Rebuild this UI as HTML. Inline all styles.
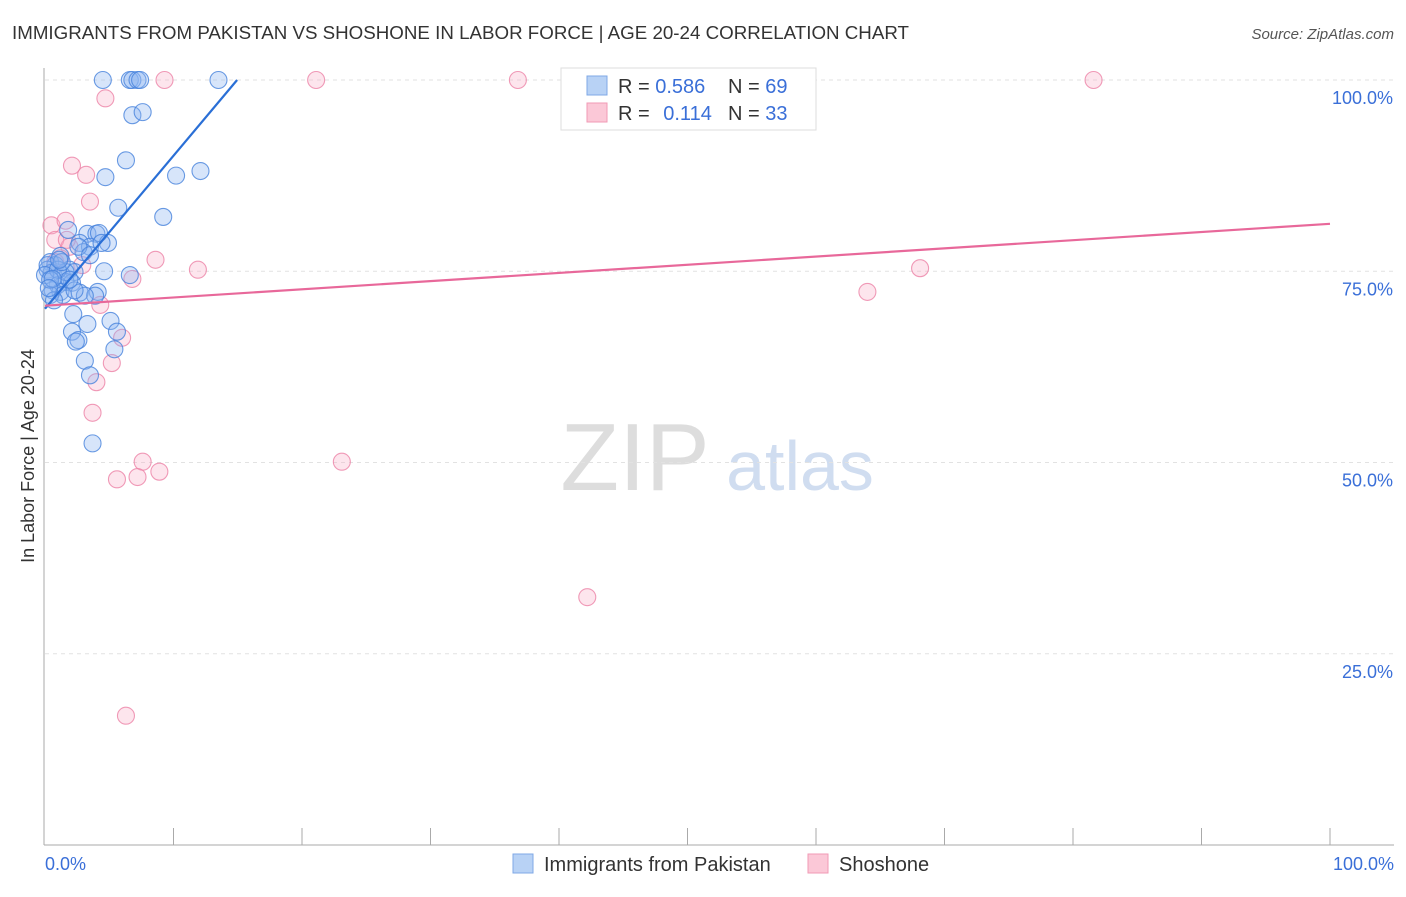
<!DOCTYPE html>
<html><head><meta charset="utf-8"><style>
body{margin:0;background:#fff;font-family:"Liberation Sans",sans-serif;}
svg text{font-family:"Liberation Sans",sans-serif;}
</style></head><body>
<svg id="chart" width="1406" height="892">
<text x="12" y="39" font-size="18" fill="#333" textLength="897" lengthAdjust="spacingAndGlyphs">IMMIGRANTS FROM PAKISTAN VS SHOSHONE IN LABOR FORCE | AGE 20-24 CORRELATION CHART</text>
<text x="1394" y="39" font-size="15" fill="#555" font-style="italic" text-anchor="end">Source: ZipAtlas.com</text>
<text x="635" y="490" font-size="96" fill="#ddd" font-family="Liberation Serif" text-anchor="middle">ZIP</text>
<text x="800" y="490" font-size="70" fill="#d0ddf0" text-anchor="middle">atlas</text>
<g id="grid"></g><g id="axes"></g><g id="marks"></g>
<text transform="translate(34,456) rotate(-90)" font-size="18" fill="#333" text-anchor="middle">In Labor Force | Age 20-24</text>
<text x="45" y="870" font-size="18" fill="#3a6fd8">0.0%</text>
<text x="1394" y="870" font-size="18" fill="#3a6fd8" text-anchor="end">100.0%</text>
<g>
<rect x="561" y="68" width="255" height="62" fill="#fff" stroke="#ddd"/>
<rect x="587" y="76" width="20" height="19" fill="#b8d2f5" stroke="#7fa8e6"/>
<rect x="587" y="103" width="20" height="19" fill="#fbc8d7" stroke="#f09ab5"/>
<text x="618" y="93" font-size="20" fill="#333">R = <tspan fill="#3a6fd8">0.586</tspan></text>
<text x="728" y="93" font-size="20" fill="#333">N = <tspan fill="#3a6fd8">69</tspan></text>
<text x="618" y="120" font-size="20" fill="#333">R = <tspan fill="#3a6fd8" dx="8">0.114</tspan></text>
<text x="728" y="120" font-size="20" fill="#333">N = <tspan fill="#3a6fd8">33</tspan></text>
</g>
<g>
<rect x="513" y="854" width="20" height="19" fill="#b8d2f5" stroke="#7fa8e6"/>
<text x="544" y="871" font-size="20" fill="#333">Immigrants from Pakistan</text>
<rect x="808" y="854" width="20" height="19" fill="#fbc8d7" stroke="#f09ab5"/>
<text x="839" y="871" font-size="20" fill="#333">Shoshone</text>
</g>
</svg>
<script>
const yTicks=[25,50,75,100];
const yTickLabels=["25.0%","50.0%","75.0%","100.0%"];
const blueX=[4.5,6.6,6.8,7.2,7.4,13.5,6.8,7.6,6.3,4.7,10.2,12.1,5.7,9.2,1.8,3.3,4.0,4.2,2.7,4.9,3.5,3.0,2.6,1.2,0.4,0.8,0.2,0.5,4.6,6.6,1.9,2.3,1.3,1.6,2.1,1.0,0.6,1.2,2.7,4.1,3.9,3.1,1.4,0.4,5.1,3.3,2.1,5.6,2.6,2.4,5.4,3.1,3.5,3.7,0.7,0.2,0.0,1.6,4.4,2.3,1.0,1.9,1.3,0.4,3.5,2.2,0.6,1.1,0.3];
const blueY=[100,100,100,100,100,100,95.4,95.8,89.5,87.3,87.5,88.1,83.3,82.1,80.4,79.9,79.9,80.0,78.7,78.7,78.2,77.5,78.2,77.0,76.2,75.8,75.2,74.8,75.0,74.5,75.2,74.9,74.5,73.6,73.5,73.2,72.5,72.3,72.2,72.3,71.8,71.8,71.9,71.9,68.5,68.1,67.1,67.1,66.0,65.8,64.8,63.3,61.4,52.5,71.2,75.8,74.5,74.9,78.7,72.5,75.2,73.9,76.2,73.9,77.1,69.4,74.0,76.5,72.8];
const pinkX=[0.5,0.8,1.6,2.1,3.2,3.5,4.7,9.3,21.1,36.8,81.6,8.6,11.9,6.8,68.1,64.0,4.3,6.0,5.2,4.0,3.7,7.6,23.1,8.9,5.6,7.2,42.2,6.3,1.9,1.7,1.2,2.9,0.8];
const pinkY=[81.0,79.1,81.6,88.8,87.6,84.1,97.6,100,100,100,100,76.5,75.2,74.0,75.4,72.3,70.6,66.3,63.0,60.5,56.5,50.1,50.1,48.8,47.8,48.1,32.4,16.9,78.2,79.1,76.7,75.8,76.2];
const blueFit=[70.1,2.0];
const pinkFit=[70.5,0.107];
const sx=v=>45+v*12.85, sy=v=>845-v*7.65;
const NS="http://www.w3.org/2000/svg";
function mk(tag,attrs,parent){const e=document.createElementNS(NS,tag);for(const k in attrs)e.setAttribute(k,attrs[k]);document.getElementById(parent).appendChild(e);return e;}
yTicks.forEach((t,i)=>{
 const l=mk('line',{x1:45,x2:1394,y1:sy(t),y2:sy(t),stroke:'#e2e2e2','stroke-dasharray':'4,4'},'grid');
 
 
 const tx=mk('text',{x:1393,y:sy(t)+24,'font-size':18,fill:'#3a6fd8','text-anchor':'end'},'grid');
 tx.textContent=yTickLabels[i];
 
 
});
const ya=mk('line',{x1:44,x2:44,y1:68,y2:845,stroke:'#aaa'},'axes');


const xa=mk('line',{x1:44,x2:1394,y1:845,y2:845,stroke:'#aaa'},'axes');


for(let i=1;i<=10;i++){const t=mk('line',{x1:sx(i*10),x2:sx(i*10),y1:828,y2:845,stroke:'#aaa'},'axes');
 
 }
pinkX.forEach((x,i)=>{const c=mk('circle',{cx:sx(x),cy:sy(pinkY[i]),r:8.5,fill:'rgba(248,170,195,0.3)',stroke:'rgba(236,130,166,0.8)','stroke-width':1.1},'marks');
 
 });
blueX.forEach((x,i)=>{const c=mk('circle',{cx:sx(x),cy:sy(blueY[i]),r:8.5,fill:'rgba(140,180,240,0.35)',stroke:'rgba(70,130,220,0.8)','stroke-width':1.1},'marks');
 
 });
const bx2=(100-blueFit[0])/blueFit[1];
const bl=mk('line',{x1:sx(0),y1:sy(blueFit[0]),x2:sx(bx2),y2:sy(100),stroke:'#2a6fd6','stroke-width':2.2},'marks');


const pl=mk('line',{x1:sx(0),y1:sy(pinkFit[0]),x2:sx(100),y2:sy(pinkFit[0]+pinkFit[1]*100),stroke:'#e8689a','stroke-width':2.2},'marks');


</script>
</body></html>
